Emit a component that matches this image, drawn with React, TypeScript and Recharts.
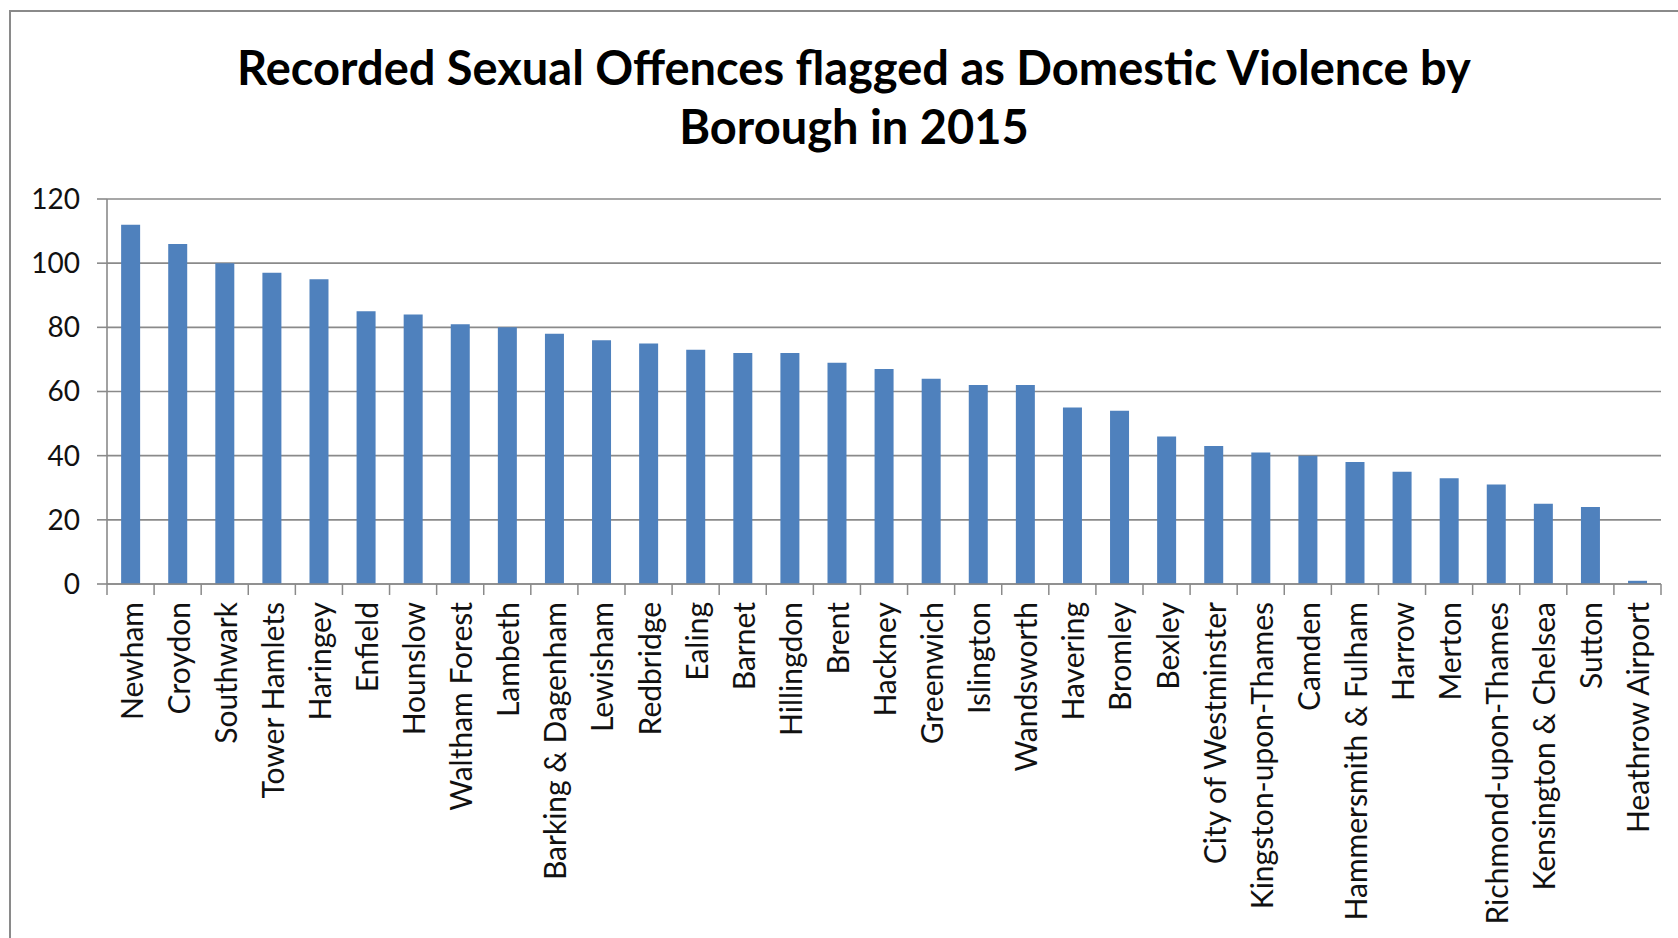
import React from 'react';
import { BarChart, Bar, XAxis, YAxis, CartesianGrid } from 'recharts';

// Recorded sexual offences flagged as DV, by borough, 2015
const boroughs = [
  'Newham', 'Croydon', 'Southwark', 'Tower Hamlets', 'Haringey', 'Enfield',
  'Hounslow', 'Waltham Forest', 'Lambeth', 'Barking & Dagenham', 'Lewisham',
  'Redbridge', 'Ealing', 'Barnet', 'Hillingdon', 'Brent', 'Hackney',
  'Greenwich', 'Islington', 'Wandsworth', 'Havering', 'Bromley', 'Bexley',
  'City of Westminster', 'Kingston-upon-Thames', 'Camden',
  'Hammersmith & Fulham', 'Harrow', 'Merton', 'Richmond-upon-Thames',
  'Kensington & Chelsea', 'Sutton', 'Heathrow Airport',
];

const offences = [
  112, 106, 100, 97, 95, 85, 84, 81, 80, 78, 76, 75, 73, 72, 72, 69, 67,
  64, 62, 62, 55, 54, 46, 43, 41, 40, 38, 35, 33, 31, 25, 24, 1,
];

const yTicks = [0, 20, 40, 60, 80, 100, 120];

const titleLines = [
  'Recorded Sexual Offences flagged as Domestic Violence by',
  'Borough in 2015',
];

const data = boroughs.map((name, i) => ({ name, value: offences[i] }));

const W = 1678;
const H = 938;
const FONT = 'Lato, "Open Sans", sans-serif';
const GRID = '#8a8a8a';
const PLOT_LEFT = 107;
const PLOT_RIGHT = 1661;

function BoroughTick(props: any) {
  const { x, y, payload, index } = props;
  const half =
    payload && payload.offset ? payload.offset : (PLOT_RIGHT - PLOT_LEFT) / boroughs.length / 2;
  const ty = y + 18;
  return (
    <g>
      <line x1={x - half} y1={y} x2={x - half} y2={y + 11} stroke={GRID} strokeWidth={1.5} />
      {index === boroughs.length - 1 && (
        <line x1={x + half} y1={y} x2={x + half} y2={y + 11} stroke={GRID} strokeWidth={1.5} />
      )}
      <text
        x={x}
        y={ty}
        transform={`rotate(-90, ${x}, ${ty})`}
        textAnchor="end"
        dominantBaseline="central"
        fontFamily={FONT}
        fontSize={30}
        fill="#111"
      >
        {payload.value}
      </text>
    </g>
  );
}

export default function App() {
  return (
    <div style={{ position: 'absolute', left: 0, top: 0, width: W, height: H, background: '#fff', overflow: 'hidden' }}>
      <div style={{ position: 'absolute', left: 0, top: 0 }}>
        <BarChart
          width={W}
          height={H}
          data={data}
          margin={{ top: 199, right: W - PLOT_RIGHT, left: PLOT_LEFT - 90, bottom: 14 }}
          barCategoryGap="30%"
        >
          <CartesianGrid horizontal vertical={false} stroke={GRID} strokeWidth={1.6} />
          <XAxis
            dataKey="name"
            interval={0}
            height={340}
            tickLine={false}
            tickSize={0}
            tickMargin={0}
            axisLine={{ stroke: GRID, strokeWidth: 1.6 }}
            tick={<BoroughTick />}
          />
          <YAxis
            width={90}
            domain={[0, 120]}
            ticks={yTicks}
            interval={0}
            tickSize={10}
            tickMargin={17}
            tickLine={{ stroke: GRID, strokeWidth: 1.6 }}
            axisLine={{ stroke: GRID, strokeWidth: 1.6 }}
            tick={{ fill: '#111', fontSize: 28, fontFamily: FONT }}
          />
          <Bar dataKey="value" fill="#4f81bd" isAnimationActive={false} />
        </BarChart>
      </div>
      <svg width={W} height={H} style={{ position: 'absolute', left: 0, top: 0, pointerEvents: 'none' }}>
        <rect x={10} y={11} width={W + 40} height={H + 40} fill="none" stroke="#8a8a8a" strokeWidth={2} />
        {titleLines.map((line, i) => (
          <text
            key={i}
            x={854}
            y={85 + i * 59}
            textAnchor="middle"
            fontFamily={FONT}
            fontWeight={700}
            fontSize={47}
            fill="#000"
          >
            {line}
          </text>
        ))}
      </svg>
    </div>
  );
}
